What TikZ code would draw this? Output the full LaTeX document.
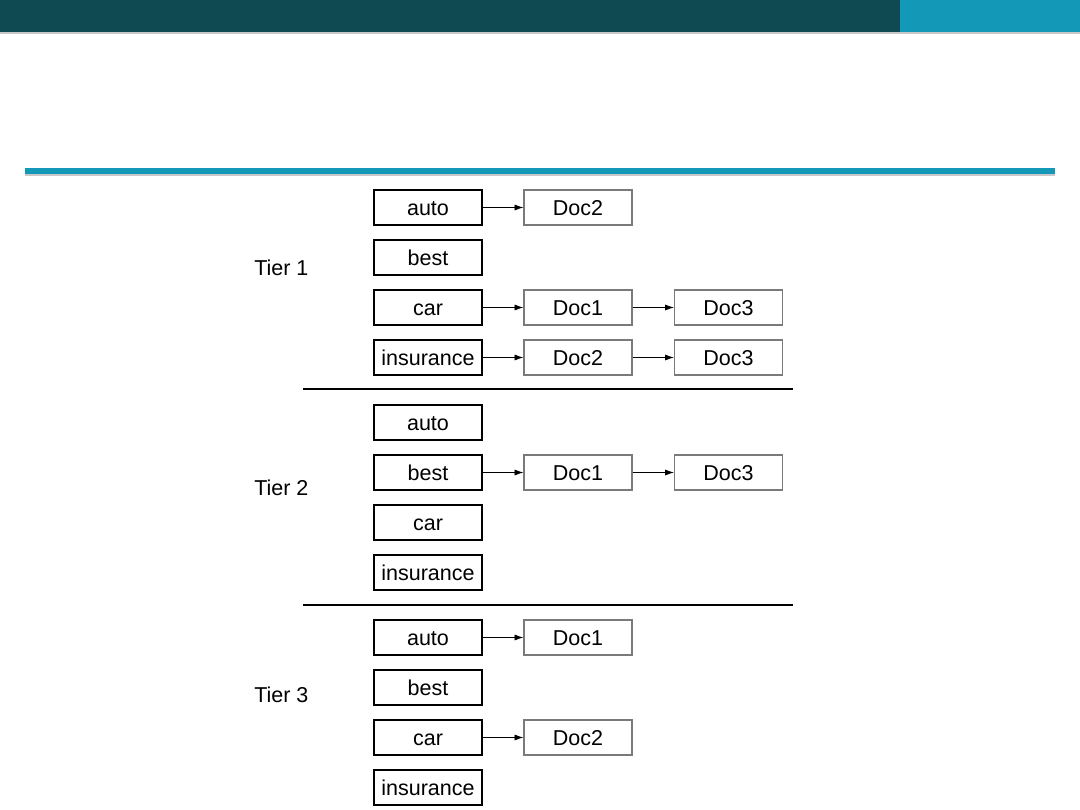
\documentclass[tikz,border=0pt]{standalone}
\usepackage{fontspec}
\setmainfont{Liberation Sans}
\usetikzlibrary{arrows.meta}
\definecolor{barra}{HTML}{0F4A53}
\definecolor{azul}{HTML}{1399B7}
\definecolor{sombra}{HTML}{C8C8C8}
\definecolor{borda}{HTML}{7A7A7A}
\tikzset{
  termo/.style={draw=black, line width=0.8pt, minimum width=2.7cm, minimum height=0.875cm,
    inner sep=0pt, text height=12.5pt, text depth=1.5pt,
    font=\fontsize{15.3}{18}\selectfont},
  doc/.style={termo, draw=borda},
  ponteiro/.style={-{Latex[length=2.2mm,width=1.5mm]}, line width=0.5pt},
  rotulo/.style={anchor=west, inner sep=0pt, font=\fontsize{15.3}{18}\selectfont},
  divisa/.style={line width=1.2pt},
}
% os quatro termos de um nivel, em coluna
\newcommand{\termos}[2]{%
  \foreach \t/\i in {auto/0, best/1, car/2, insurance/3}
    \node[termo] (#1\t) at (428,{#2+50*\i}) {\t};}

\begin{document}
\begin{tikzpicture}[x=0.025cm, y=-0.025cm]
  \useasboundingbox (0,0) rectangle (1080,810);
  % cabecalho
  \fill[barra] (0,0) rectangle (900,32);
  \fill[azul] (900,0) rectangle (1080,32);
  \fill[sombra] (0,32) rectangle (1080,34);
  \fill[azul] (25,168) rectangle (1055,173.5);
  \fill[sombra] (25,173.5) rectangle (1055,176);
  % Tier 1
  \node[rotulo] (tier1) at (254,268) {Tier 1};
  \termos{a}{207.5}
  \node[doc] (a-d2) at (578,207.5) {Doc2};
  \node[doc] (c-d1) at (578,307.5) {Doc1};
  \node[doc] (c-d3) at (728.5,307.5) {Doc3};
  \node[doc] (i-d2) at (578,357.5) {Doc2};
  \node[doc] (i-d3) at (728.5,357.5) {Doc3};
  \draw[ponteiro] (aauto) -- (a-d2);
  \draw[ponteiro] (acar) -- (c-d1);
  \draw[ponteiro] (c-d1) -- (c-d3);
  \draw[ponteiro] (ainsurance) -- (i-d2);
  \draw[ponteiro] (i-d2) -- (i-d3);
  \draw[divisa] (303,389) -- (793,389);
  % Tier 2
  \node[rotulo] (tier2) at (254,488) {Tier 2};
  \termos{b}{422.5}
  \node[doc] (b-d1) at (578,472.5) {Doc1};
  \node[doc] (b-d3) at (728.5,472.5) {Doc3};
  \draw[ponteiro] (bbest) -- (b-d1);
  \draw[ponteiro] (b-d1) -- (b-d3);
  \draw[divisa] (303,605) -- (793,605);
  % Tier 3
  \node[rotulo] (tier3) at (254,695) {Tier 3};
  \termos{c}{637.5}
  \node[doc] (ca-d1) at (578,637.5) {Doc1};
  \node[doc] (cc-d2) at (578,737.5) {Doc2};
  \draw[ponteiro] (cauto) -- (ca-d1);
  \draw[ponteiro] (ccar) -- (cc-d2);
\end{tikzpicture}
\end{document}
